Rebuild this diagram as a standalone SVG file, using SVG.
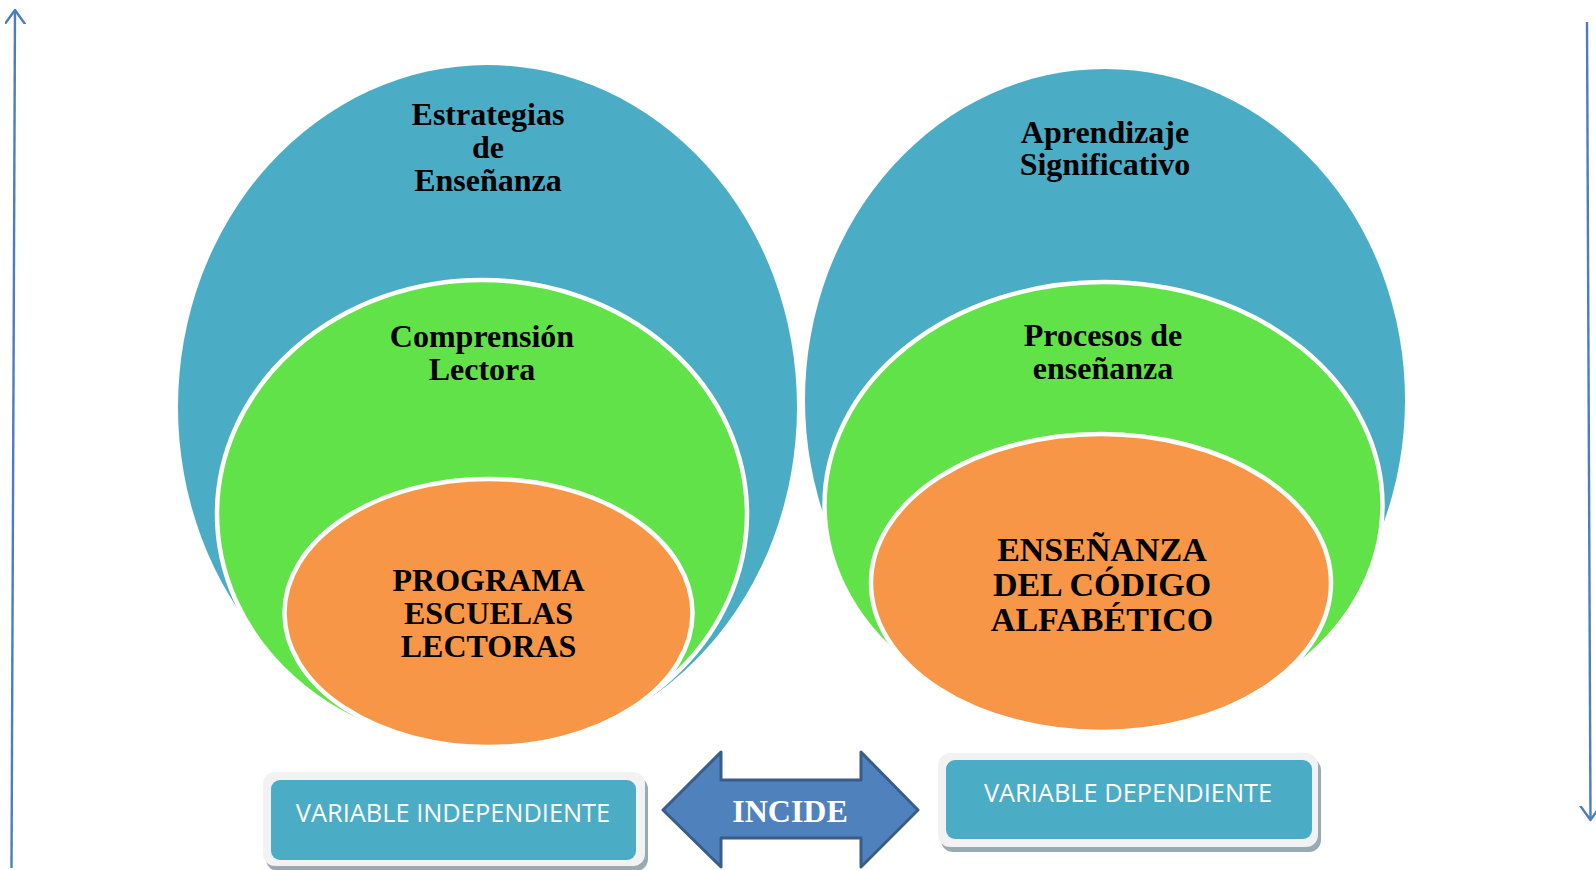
<svg xmlns="http://www.w3.org/2000/svg" width="1596" height="870" viewBox="0 0 1596 870">
  <defs>
    <marker id="openArrow" markerWidth="24" markerHeight="24" refX="14" refY="10" orient="auto" markerUnits="userSpaceOnUse">
      <path d="M0,0 L14,10 L0,20" fill="none" stroke="#4A7EBF" stroke-width="2.4" stroke-linecap="round" stroke-linejoin="round"/>
    </marker>
  </defs>
  <style>
    .blue { fill: #4BACC6; }
    .green { fill: #62E249; stroke: #FFFFFF; stroke-width: 4.5; }
    .orange { fill: #F79646; stroke: #FFFFFF; stroke-width: 4.5; }
    .t { font-family: "Liberation Serif", "Times New Roman", serif; font-weight: bold; font-size: 32px; fill: #000000; text-anchor: middle; }
    .tb { font-size: 34px; }
    .box-outer { fill: #F2F2F2; }
    .box-shadow { fill: #96ABB4; }
    .box-inner { fill: #4BACC6; }
    .bt { font-family: "Open Sans", "Liberation Sans", sans-serif; font-size: 25.4px; fill: #FFFFFF; text-anchor: middle; }
    .axis { fill: none; stroke: #4A7EBF; stroke-width: 2.4; }
  </style>
  <rect width="1596" height="870" fill="#FFFFFF"/>

  <g id="connectors">
    <line class="axis" x1="11.5" y1="868" x2="15" y2="10" marker-end="url(#openArrow)"/>
    <line class="axis" x1="1587" y1="22" x2="1590.5" y2="820" marker-end="url(#openArrow)"/>
  </g>

  <g id="left-venn">
    <g id="estrategias">
      <ellipse class="blue" cx="487.5" cy="407" rx="309.5" ry="342"/>
      <text class="t" x="488" y="125">Estrategias</text>
      <text class="t" x="488" y="158">de</text>
      <text class="t" x="488" y="191">Enseñanza</text>
    </g>
    <g id="comprension">
      <ellipse class="green" cx="482" cy="514" rx="265" ry="234"/>
      <text class="t" x="482" y="347">Comprensión</text>
      <text class="t" x="482" y="380">Lectora</text>
    </g>
    <g id="programa">
      <ellipse class="orange" cx="488.5" cy="613" rx="204" ry="134"/>
      <text class="t" x="488.5" y="591">PROGRAMA</text>
      <text class="t" x="488.5" y="624">ESCUELAS</text>
      <text class="t" x="488.5" y="657">LECTORAS</text>
    </g>
  </g>

  <g id="right-venn">
    <g id="aprendizaje">
      <ellipse class="blue" cx="1105" cy="400" rx="300" ry="331"/>
      <text class="t" x="1105" y="142.5">Aprendizaje</text>
      <text class="t" x="1105" y="175">Significativo</text>
    </g>
    <g id="procesos">
      <ellipse class="green" cx="1103.5" cy="505" rx="279" ry="223"/>
      <text class="t" x="1103" y="346">Procesos de</text>
      <text class="t" x="1103" y="379">enseñanza</text>
    </g>
    <g id="codigo">
      <ellipse class="orange" cx="1101" cy="583" rx="230" ry="149"/>
      <text class="t tb" x="1102" y="561">ENSEÑANZA</text>
      <text class="t tb" x="1102" y="596">DEL CÓDIGO</text>
      <text class="t tb" x="1102" y="631">ALFABÉTICO</text>
    </g>
  </g>

  <g id="variable-independiente">
    <rect class="box-shadow" x="266" y="777" width="382" height="94" rx="12"/>
    <rect class="box-outer" x="263" y="772" width="382" height="94" rx="12"/>
    <rect class="box-inner" x="271" y="780" width="365" height="80" rx="9"/>
    <text class="bt" x="453" y="822">VARIABLE INDEPENDIENTE</text>
  </g>

  <g id="incide">
    <path d="M663,810 L721,752 L721,780 L861,780 L861,752 L918,810 L861,867 L861,838 L721,838 L721,867 Z" fill="#4F81BD" stroke="#385D8A" stroke-width="3" stroke-linejoin="round"/>
    <text x="790" y="822" font-family="Liberation Serif, Times New Roman, serif" font-weight="bold" font-size="32" fill="#FFFFFF" text-anchor="middle">INCIDE</text>
  </g>

  <g id="variable-dependiente">
    <rect class="box-shadow" x="941" y="758" width="380" height="94" rx="12"/>
    <rect class="box-outer" x="938" y="753" width="380" height="94" rx="12"/>
    <rect class="box-inner" x="946" y="760" width="366" height="79" rx="9"/>
    <text class="bt" x="1128" y="802">VARIABLE DEPENDIENTE</text>
  </g>
</svg>
